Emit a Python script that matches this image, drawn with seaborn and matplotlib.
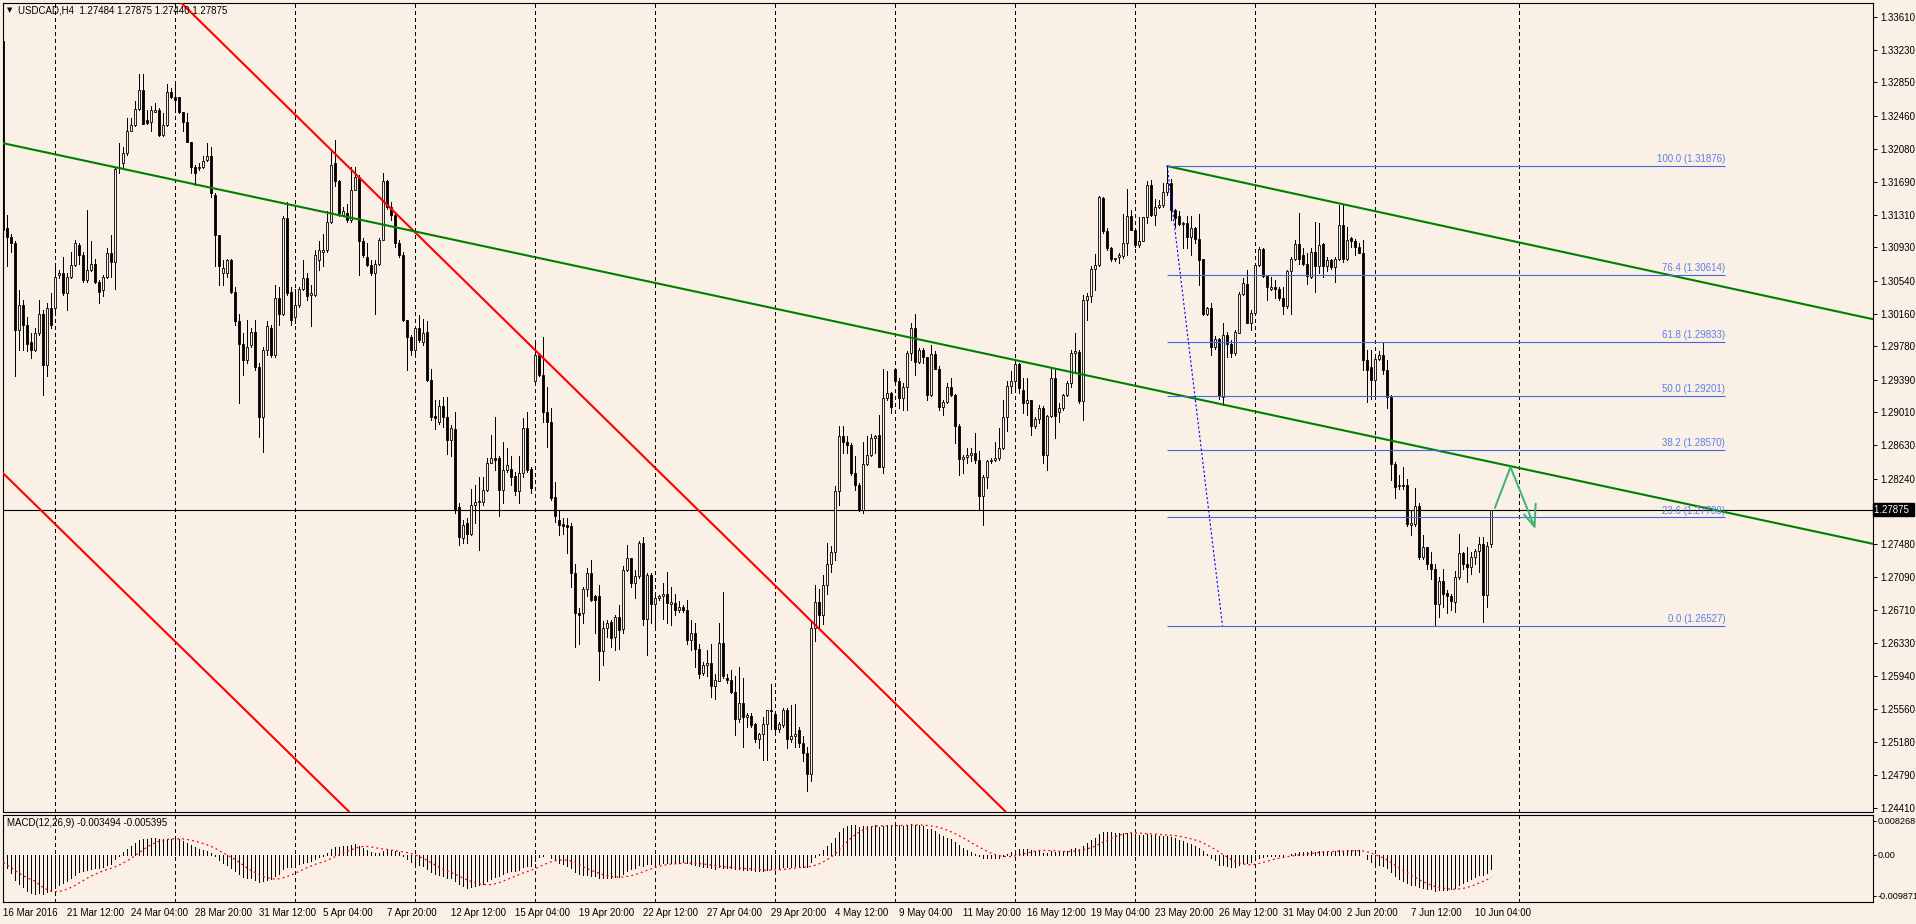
import numpy as np
import pandas as pd
import matplotlib
matplotlib.use("Agg")
import matplotlib.pyplot as plt
import matplotlib.transforms as mtransforms
import seaborn as sns

# USDCAD H4 candles, in pips (1e-4)
opens = [13333,13115,13105,13098,12997,13026,13003,12983,12974,12993,13016,12956,13022,13022,13061,13063,13040,13059,13073,13096,
13084,13055,13067,13074,13053,13043,13059,13086,13076,13185,13191,13203,13228,13235,13254,13276,13241,13239,13251,13253,
13224,13235,13274,13268,13268,13251,13239,13216,13187,13185,13187,13195,13199,13154,13108,13063,13063,13078,13041,13007,
12981,12962,12979,12995,12954,12896,12974,12999,12968,13034,13016,13127,13041,13012,13026,13045,13057,13038,13038,13078,
13088,13090,13123,13191,13170,13131,13133,13125,13160,13175,13100,13082,13073,13063,13074,13102,13170,13140,13131,13098,
13084,13009,12989,12974,12999,12983,12995,12939,12897,12890,12908,12896,12869,12882,12791,12755,12772,12760,12793,12797,
12797,12811,12842,12848,12848,12811,12834,12835,12827,12809,12830,12883,12835,12937,12968,12945,12901,12890,12802,12776,
12771,12770,12769,12714,12668,12667,12696,12714,12687,12687,12623,12650,12657,12640,12663,12649,12718,12731,12702,12711,
12749,12661,12712,12678,12685,12687,12690,12678,12679,12671,12675,12671,12636,12644,12626,12598,12607,12609,12583,12589,
12633,12592,12590,12576,12544,12563,12547,12548,12538,12521,12527,12538,12555,12550,12533,12537,12555,12521,12524,12531,
12516,12505,12480,12650,12680,12665,12700,12725,12738,12809,12873,12867,12863,12830,12817,12787,12841,12851,12871,12875,
12838,12918,12924,12951,12938,12918,12930,12970,12999,12960,12974,12965,12921,12969,12951,12907,12913,12930,12921,12885,
12847,12849,12851,12854,12846,12804,12826,12844,12846,12848,12859,12896,12932,12938,12957,12927,12912,12915,12885,12893,
12906,12852,12897,12941,12902,12906,12921,12935,12970,12971,12914,13032,13037,13068,13073,13150,13112,13092,13079,13082,
13083,13098,13130,13113,13096,13101,13128,13166,13131,13140,13142,13157,13168,13137,13129,13120,13121,13105,13115,13103,
13079,13016,13022,12977,12986,12919,12991,12981,12970,12993,13039,13050,13005,13017,13073,13091,13060,13045,13047,13045,
13034,13025,13065,13080,13097,13084,13074,13059,13088,13071,13097,13071,13078,13070,13080,13119,13080,13104,13101,13094,
13086,12962,12954,12939,12963,12968,12950,12919,12841,12815,12817,12816,12770,12771,12792,12733,12744,12725,12719,12678,
12705,12691,12687,12680,12709,12737,12725,12721,12733,12740,12748,12688,12748.4]
highs = [13333,13131,13109,13100,13044,13032,13012,12993,12999,13032,13020,13028,13040,13071,13067,13082,13063,13088,13102,13098,
13088,13137,13100,13080,13055,13061,13092,13107,13187,13214,13210,13243,13243,13263,13295,13295,13253,13257,13261,13255,
13249,13283,13278,13283,13268,13251,13249,13216,13189,13191,13199,13214,13210,13156,13108,13078,13080,13080,13047,13016,
12993,13009,12999,13009,12958,12977,13007,13003,13049,13047,13129,13146,13047,13045,13047,13078,13063,13049,13090,13100,
13109,13135,13206,13218,13172,13140,13144,13187,13187,13177,13104,13098,13078,13078,13104,13179,13171,13146,13133,13102,
13088,13009,12991,13001,13014,13010,13007,12952,12915,12915,12919,12919,12886,12902,12795,12776,12778,12812,12817,12826,
12826,12848,12875,12896,12850,12867,12859,12850,12832,12850,12894,12902,12838,12983,12970,12989,12931,12906,12820,12786,
12778,12778,12772,12725,12673,12698,12720,12729,12689,12700,12658,12659,12659,12665,12677,12722,12747,12731,12718,12751,
12756,12714,12714,12687,12689,12702,12715,12698,12690,12681,12677,12683,12659,12656,12632,12611,12624,12632,12597,12656,
12692,12597,12601,12594,12605,12592,12551,12551,12539,12528,12547,12555,12585,12551,12541,12557,12557,12561,12562,12535,
12524,12512,12660,12700,12695,12712,12749,12745,12815,12885,12885,12873,12865,12850,12819,12867,12873,12876,12875,12898,
12951,12949,12925,12953,12941,12935,12972,13005,13015,12976,12976,12966,12980,12972,12955,12916,12935,12941,12922,12887,
12852,12859,12859,12877,12856,12828,12846,12848,12867,12883,12916,12937,12949,12962,12959,12941,12941,12916,12896,12910,
12909,12898,12951,12953,12912,12922,12937,12974,12993,12974,13038,13040,13071,13085,13153,13152,13116,13094,13081,13086,
13132,13161,13137,13114,13128,13128,13170,13172,13149,13148,13168,13187,13173,13138,13135,13123,13129,13129,13117,13132,
13080,13024,13028,12990,12987,13005,12994,12985,12997,13041,13057,13067,13020,13074,13093,13092,13061,13059,13055,13047,
13047,13067,13082,13102,13133,13092,13086,13092,13123,13121,13098,13082,13080,13082,13142,13142,13117,13105,13103,13098,
13102,12974,12974,12964,12972,12983,12962,12921,12843,12828,12837,12824,12787,12813,12795,12758,12744,12738,12725,12709,
12719,12694,12690,12717,12760,12738,12744,12738,12742,12756,12756,12750,12787.5]
lows = [13092,13071,13088,12943,12974,12974,12972,12964,12972,12991,12921,12943,12999,13018,13057,13038,13020,13057,13071,13074,
13053,13053,13065,13051,13028,13036,13057,13059,13045,13179,13185,13201,13228,13234,13253,13237,13237,13228,13251,13223,
13223,13234,13267,13253,13249,13228,13216,13179,13166,13183,13185,13193,13152,13071,13049,13049,13059,13040,13003,12912,
12945,12958,12977,12950,12872,12855,12968,12966,12966,13003,13014,13038,13003,13005,13024,13043,13032,13001,13036,13067,
13071,13088,13121,13165,13129,13129,13123,13123,13160,13061,13082,13071,13061,13016,13073,13102,13138,13125,13094,13082,
13007,12950,12968,12970,12983,12979,12937,12892,12882,12888,12884,12853,12850,12784,12747,12749,12749,12758,12772,12741,
12793,12809,12842,12834,12780,12795,12832,12817,12805,12795,12826,12832,12807,12935,12943,12890,12861,12799,12774,12758,
12760,12737,12698,12628,12632,12656,12687,12681,12644,12590,12607,12640,12628,12624,12626,12644,12716,12698,12685,12708,
12654,12619,12656,12648,12683,12661,12656,12654,12665,12669,12669,12632,12624,12605,12592,12595,12594,12570,12568,12588,
12592,12586,12574,12526,12541,12512,12535,12535,12518,12510,12496,12496,12533,12526,12529,12535,12510,12518,12512,12512,
12495,12461,12472,12635,12650,12655,12690,12715,12729,12793,12854,12854,12828,12811,12786,12784,12840,12850,12854,12838,
12830,12916,12900,12935,12906,12904,12904,12962,12945,12958,12958,12916,12920,12951,12904,12898,12912,12920,12865,12828,
12830,12842,12844,12842,12788,12770,12813,12842,12844,12846,12858,12879,12923,12929,12923,12900,12898,12875,12883,12889,
12842,12834,12896,12871,12890,12904,12920,12931,12947,12912,12892,13008,13030,13044,13071,13110,13090,13077,13077,13075,
13081,13084,13113,13094,13094,13100,13121,13129,13119,13139,13140,13154,13125,13117,13119,13092,13092,13084,13098,13049,
13014,13014,12968,12975,12917,12910,12966,12966,12968,12993,13038,13005,12997,13014,13071,13059,13032,13043,13034,13032,
13016,13022,13016,13078,13074,13073,13050,13057,13041,13063,13059,13065,13068,13053,13078,13076,13078,13094,13084,13086,
12950,12913,12917,12917,12962,12946,12906,12822,12801,12812,12812,12769,12758,12769,12731,12731,12719,12707,12653,12663,
12674,12667,12671,12669,12707,12719,12704,12713,12725,12715,12657,12674,12744.0]
closes = [13113,13105,13098,12997,13026,13003,12981,12974,12993,13016,12956,13022,13003,13059,13063,13040,13059,13073,13098,13084,
13055,13067,13074,13053,13041,13059,13086,13076,13184,13187,13203,13228,13235,13254,13276,13237,13238,13253,13253,13224,
13235,13274,13268,13265,13251,13239,13216,13187,13179,13187,13194,13199,13156,13108,13071,13069,13078,13041,13007,12981,
12962,12977,12995,12954,12896,12974,13001,12968,13034,13016,13127,13040,13009,13026,13045,13057,13036,13040,13084,13090,
13090,13123,13189,13170,13133,13135,13125,13160,13175,13100,13084,13073,13063,13074,13102,13170,13140,13131,13098,13084,
13009,12989,12974,12999,12985,12993,12939,12896,12894,12908,12896,12869,12883,12789,12756,12770,12760,12793,12797,12798,
12811,12842,12848,12846,12811,12834,12840,12826,12809,12830,12883,12834,12813,12968,12945,12901,12890,12801,12780,12770,
12769,12768,12714,12667,12665,12696,12714,12683,12683,12623,12650,12656,12638,12663,12648,12718,12731,12702,12711,12749,
12661,12712,12678,12685,12687,12690,12679,12680,12671,12675,12671,12636,12644,12626,12597,12607,12609,12583,12590,12633,
12594,12590,12576,12544,12563,12547,12549,12537,12521,12527,12538,12555,12554,12533,12538,12555,12521,12524,12527,12516,
12505,12480,12650,12680,12665,12700,12725,12739,12809,12873,12867,12863,12830,12817,12787,12841,12851,12871,12874,12838,
12918,12923,12907,12938,12918,12930,12970,12999,12960,12974,12965,12921,12969,12951,12907,12913,12930,12921,12885,12847,
12849,12851,12854,12846,12804,12826,12844,12846,12848,12859,12896,12932,12938,12957,12929,12912,12915,12885,12893,12906,
12852,12897,12941,12897,12906,12921,12935,12970,12972,12914,13032,13037,13068,13073,13152,13112,13092,13079,13081,13084,
13098,13130,13113,13096,13101,13128,13166,13131,13140,13142,13157,13168,13137,13127,13120,13121,13105,13115,13103,13078,
13016,13022,12977,12986,12920,12991,12981,12970,12994,13039,13051,13005,13017,13073,13091,13060,13047,13047,13045,13034,
13025,13065,13080,13097,13079,13074,13060,13088,13071,13096,13071,13078,13070,13080,13119,13079,13102,13101,13094,13086,
12962,12950,12939,12963,12968,12950,12919,12841,12814,12817,12815,12771,12772,12792,12733,12744,12725,12719,12678,12705,
12690,12687,12681,12709,12737,12725,12721,12733,12740,12748,12688,12746,12787.5]

first_bar = "2016-03-16 20:00"
price_ticks = [1.33610, 1.33230, 1.32850, 1.32460, 1.32080, 1.31690, 1.31310, 1.30930, 1.30540, 1.30160,
               1.29780, 1.29390, 1.29010, 1.28630, 1.28240, 1.27480, 1.27090, 1.26710, 1.26330, 1.25940,
               1.25560, 1.25180, 1.24790, 1.24410]
last_price = 1.27875
macd_ticks = [0.008268, 0.0, -0.009871]
macd_tick_labels = ["0.008268", "0.00", "-0.009871"]

# drawn objects (bar index, price)
red_line_1 = [(43.75, 1.33809), (199.2, 1.26710)]
red_line_2 = [(0.0, 1.28300), (85.0, 1.24430)]
green_line_1 = [(0.4, 1.32138), (294.2, 1.29208)]
green_line_2 = [(291.0, 1.31876), (424.2, 1.30531)]
fib_high = (291.0, 1.31876)
fib_low = (304.8, 1.26527)
fib_end = 430.5
fib_levels = [0.0, 23.6, 38.2, 50.0, 61.8, 76.4, 100.0]
arrow_x = [372.9, 376.8, 382.8]
arrow_y = [1.27900, 1.28373, 1.27680]
head_x = [380.2, 382.8, 383.1]
head_y = [1.27823, 1.27680, 1.27947]
future_grid = 379

O = np.array(opens) / 1e4
Hi = np.array(highs) / 1e4
Lo = np.array(lows) / 1e4
C = np.array(closes) / 1e4
n = len(C)
idx = np.arange(n)
Hi = np.maximum(Hi, np.maximum(O, C))
Lo = np.minimum(Lo, np.minimum(O, C))

times = pd.date_range(first_bar, periods=700, freq="4h")
times = times[times.dayofweek < 5][:n]

# MACD(12,26,9) as MT4 draws it: EMA12-EMA26 of close, SMA9 signal
s = pd.Series(np.r_[O[0], C])
macd = (s.ewm(span=12, adjust=False).mean() - s.ewm(span=26, adjust=False).mean()).values[1:]
signal = pd.Series(macd).rolling(9, min_periods=1).mean().values

BG = "#FAF0E6"
sns.set_style("white")
plt.rcParams["font.family"] = ["Liberation Sans", "DejaVu Sans"]
FS = 7

W, H = 1916, 924
fig = plt.figure(figsize=(W / 100, H / 100), dpi=100, facecolor=BG)


def px_axes(x0, y0, x1, y1):
    return fig.add_axes([x0 / W, 1 - y1 / H, (x1 - x0) / W, (y1 - y0) / H])


ax = px_axes(3, 3, 1873, 811.5)
axm = px_axes(3, 814.5, 1873, 902)
xlim = (-0.075, 467.425)

for a in (ax, axm):
    a.set_facecolor(BG)
    a.set_xlim(*xlim)
    for sp in a.spines.values():
        sp.set_color("black")
        sp.set_linewidth(0.8)
    a.yaxis.tick_right()
    a.tick_params(axis="y", direction="out", length=3, width=0.7, pad=2, labelsize=FS, colors="black")

# weekly grid
grid_bars = list(idx[(times.dayofweek == 0) & (times.hour == 0)]) + [future_grid]
for g in grid_bars:
    for a in (ax, axm):
        a.axvline(g, color="black", lw=0.72, ls=(0, (4, 3)), zorder=1, antialiased=False)

# candles
ax.vlines(idx, Lo, Hi, color="black", lw=0.72, zorder=3, antialiased=False)
up = C >= O
ax.bar(idx, np.abs(C - O), bottom=np.minimum(O, C), width=0.58,
       color=np.where(up, BG, "black"), edgecolor="black", linewidth=0.6, zorder=4)

# trend lines
ax.axline(*red_line_1, color="#FF0000", lw=1.5, zorder=5)
ax.axline(*red_line_2, color="#FF0000", lw=1.5, zorder=5)
ax.axline(*green_line_1, color="#008000", lw=1.5, zorder=5)
slope = (green_line_2[1][1] - green_line_2[0][1]) / (green_line_2[1][0] - green_line_2[0][0])
ax.plot([green_line_2[0][0], xlim[1]],
        [green_line_2[0][1], green_line_2[0][1] + slope * (xlim[1] - green_line_2[0][0])],
        color="#008000", lw=1.5, zorder=5)

# fibonacci retracement
rng = fib_high[1] - fib_low[1]
for lv in fib_levels:
    p = fib_low[1] + rng * lv / 100
    ax.hlines(p, fib_high[0], fib_end, color="#4169E1", lw=0.8, zorder=5)
    ax.text(fib_end, p + 0.0002, f"{lv:.1f} ({p:.5f})", ha="right", va="bottom",
            color="#5A7FE6", fontsize=FS, zorder=6)
ax.plot([fib_high[0], fib_low[0]], [fib_high[1], fib_low[1]], color="#0000FF", lw=0.8, ls=(0, (2, 2)), zorder=5)

# projected path
ax.plot(arrow_x, arrow_y, color="#3CB371", lw=1.4, zorder=6)
ax.plot(head_x, head_y, color="#3CB371", lw=1.4, zorder=6)

# current price
ax.axhline(last_price, color="black", lw=0.8, zorder=2)
ax.set_ylim(1.24366, 1.33774)
ax.set_yticks(price_ticks)
ax.set_yticklabels([f"{v:.5f}" for v in price_ticks])
ax.set_xticks([])
trans = mtransforms.blended_transform_factory(ax.transAxes, ax.transData)
ax.text(1.0008, last_price, f"{last_price:.5f} ", transform=trans, ha="left", va="center",
        color="white", fontsize=FS, clip_on=False,
        bbox=dict(boxstyle="square,pad=0.15", fc="black", ec="black"), zorder=10)

fig.text(7 / W, 1 - 10.5 / H, "\u25bc", fontsize=5, color="black", ha="left", va="center", family="DejaVu Sans")
fig.text(18 / W, 1 - 10.5 / H, "USDCAD,H4  1.27484 1.27875 1.27440 1.27875", fontsize=FS,
         color="black", ha="left", va="center")

# MACD panel
axm.vlines(idx, 0, macd, color="black", lw=0.72, zorder=3, antialiased=False)
sns.lineplot(x=idx, y=signal, ax=axm, color="#FF0000", lw=0.9, linestyle=(0, (1.5, 2.5)), zorder=4)
axm.set_ylim(-0.01133, 0.00976)
axm.set_yticks(macd_ticks)
axm.set_yticklabels(macd_tick_labels)
axm.tick_params(axis="y", length=2.5, pad=1, labelsize=6.6)
axm.set_ylabel("")
axm.text(4 / 1870, 0.9, "MACD(12,26,9) -0.003494 -0.005395", transform=axm.transAxes,
         fontsize=FS, color="black", ha="left", va="center")

label_bars = [0] + list(range(16, n, 16))
labels = ["16 Mar 2016" if b == 0 else f"{times[b].day} {times[b]:%b %H:%M}" for b in label_bars]
axm.set_xticks(label_bars)
axm.set_xticklabels(labels)
axm.tick_params(axis="x", direction="out", length=3, width=0.7, pad=1.5, labelsize=FS, colors="black")
for t in axm.get_xticklabels():
    t.set_ha("left")

fig.savefig("out.png", dpi=100, facecolor=BG)
